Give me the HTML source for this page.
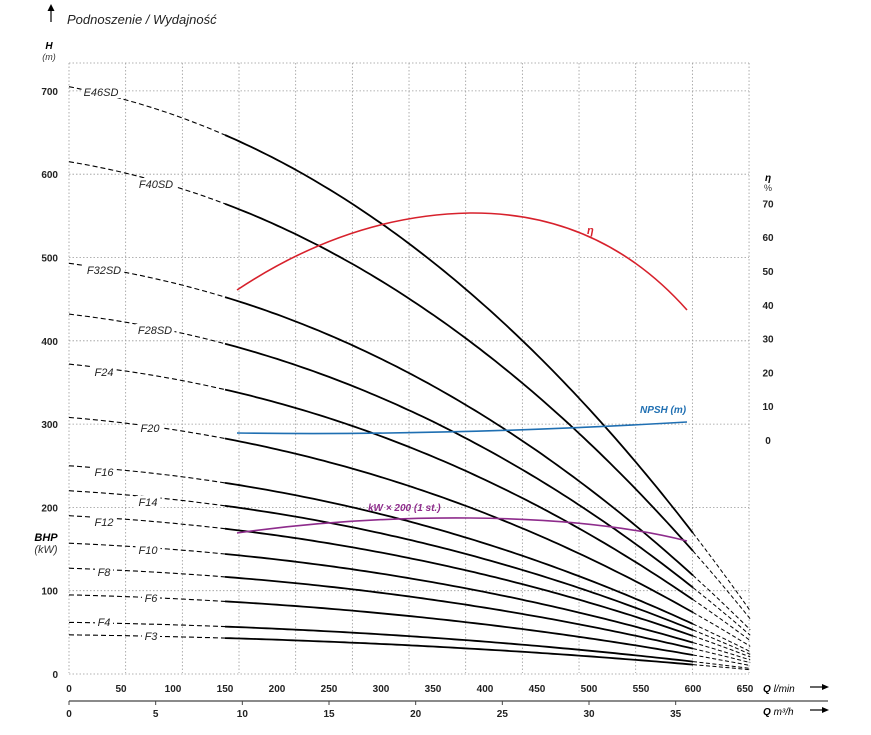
<!DOCTYPE html>
<html><head><meta charset="utf-8"><style>
body{margin:0;background:#fff;}
svg{display:block;font-family:"Liberation Sans",sans-serif;}
.t{font-size:10px;font-weight:bold;fill:#222;}
.lab{font-size:11px;font-style:italic;fill:#222;}
</style></head><body>
<svg id="s" width="871" height="735" viewBox="0 0 871 735" xmlns="http://www.w3.org/2000/svg">
<g id="grid" stroke="#999" stroke-width="0.8" stroke-dasharray="1.5,2" fill="none"></g>
<g id="curves"></g>
<g id="labs"></g>
<line x1="51" y1="22" x2="51" y2="8" stroke="#000" stroke-width="1.2"/>
<polygon points="47.5,11 51,4 54.5,11" fill="#000"/>
<text x="67" y="24" font-size="13" font-style="italic" fill="#222">Podnoszenie / Wydajność</text>
<text x="49" y="49" font-size="10" font-weight="bold" font-style="italic" text-anchor="middle">H</text>
<text x="49" y="60" font-size="9" font-style="italic" text-anchor="middle" fill="#333">(m)</text>
<text x="46" y="541" font-size="11" font-weight="bold" font-style="italic" text-anchor="middle">BHP</text>
<text x="46" y="553" font-size="11" font-style="italic" text-anchor="middle" fill="#333">(kW)</text>
<text x="768" y="181" font-size="10" font-weight="bold" font-style="italic" text-anchor="middle">η</text>
<text x="768" y="191" font-size="9" text-anchor="middle" fill="#333">%</text>
<line x1="69" y1="701" x2="828" y2="701" stroke="#444" stroke-width="1.2"/>
<text x="763" y="692" font-size="10" font-weight="bold" font-style="italic">Q <tspan font-weight="normal">l/min</tspan></text>
<text x="763" y="715" font-size="10" font-weight="bold" font-style="italic">Q <tspan font-weight="normal">m³/h</tspan></text>
<line x1="810" y1="687" x2="824" y2="687" stroke="#000" stroke-width="1.2"/><polygon points="822,684 829,687 822,690" fill="#000"/>
<line x1="810" y1="710" x2="824" y2="710" stroke="#000" stroke-width="1.2"/><polygon points="822,707 829,710 822,713" fill="#000"/>
<path d="M237,290 Q350,215 470,213 Q600,212 687,310" fill="none" stroke="#d7212c" stroke-width="1.6"/>
<path d="M237,433 Q450,436 687,422" fill="none" stroke="#1f6fb2" stroke-width="1.6"/>
<path d="M237,533 Q350,517 470,518 Q600,519 687,541" fill="none" stroke="#8e2c8c" stroke-width="1.6"/>
<text x="587" y="234" font-size="11" font-weight="bold" font-style="italic" fill="#d7212c">η</text>
<text x="640" y="413" font-size="10" font-weight="bold" font-style="italic" fill="#1f6fb2">NPSH (m)</text>
<text x="368" y="511" font-size="10" font-weight="bold" font-style="italic" fill="#8e2c8c">kW × 200 (1 st.)</text>
</svg>
<script>
var NS="http://www.w3.org/2000/svg",s=document.getElementById('s');
function el(p,t,a,txt){var e=document.createElementNS(NS,t);for(var k in a)e.setAttribute(k,a[k]);if(txt!=null)e.textContent=txt;p.appendChild(e);return e;}
var g=document.getElementById('grid');
for(var i=0;i<=12;i++){var x=69+i*56.67;el(g,'line',{x1:x,y1:63,x2:x,y2:673});}
el(g,'line',{x1:69,y1:63,x2:749,y2:63});
for(var h=0;h<=700;h+=100){var y=674-h*0.833;el(g,'line',{x1:69,y1:y,x2:749,y2:y});
 el(s,'text',{x:58,y:y+4,'text-anchor':'end','class':'t'},h);}
function X(q){return 69+q*1.04;}
for(var q=0;q<=650;q+=50)el(s,'text',{x:X(q),y:692,'text-anchor':'middle','class':'t'},q);
for(var m=0;m<=35;m+=5){var x=X(m*1000/60);el(s,'line',{x1:x,y1:701,x2:x,y2:705,stroke:'#444'});
 el(s,'text',{x:x,y:717,'text-anchor':'middle','class':'t'},m);}
for(var e=0;e<=70;e+=10){el(s,'text',{x:768,y:444-e*3.38,'text-anchor':'middle','class':'t'},e);}
var C=[["E46SD",705,101,95],["F40SD",615,156,187],["F32SD",493,104,273],["F28SD",432,155,333],["F24",372,104,375],["F20",308,150,431],["F16",250,104,475],["F14",220,148,505],["F12",190,104,525],["F10",157,148,553],["F8",127,104,575],["F6",95,151,601],["F4",62,104,625],["F3",47,151,639]];
var cg=document.getElementById('curves'),lg=document.getElementById('labs');
function f(q){q=q/600;return 1-0.2*q-0.5*q*q-0.06*q*q*q;}
function Y(h){return 674-h*0.833;}
function path(h0,a,b){var d='';for(var q=a;q<=b+0.01;q+=5){d+=(d?'L':'M')+X(q).toFixed(1)+','+Y(h0*f(q)).toFixed(1);}return d;}
C.forEach(function(c){
 el(cg,'path',{d:path(c[1],0,150),fill:'none',stroke:'#000','stroke-width':1.1,'stroke-dasharray':'5,3'});
 el(cg,'path',{d:path(c[1],150,600),fill:'none',stroke:'#000','stroke-width':1.8});
 el(cg,'path',{d:path(c[1],600,655),fill:'none',stroke:'#000','stroke-width':1,'stroke-dasharray':'4,2.5'});
 var w=c[0].length*7+4;
 el(lg,'rect',{x:c[2]-w/2,y:c[3]-9,width:w,height:12,fill:'#fff'});
 el(lg,'text',{x:c[2],y:c[3]+1,'text-anchor':'middle','class':'lab'},c[0]);
});
</script>
</body></html>
